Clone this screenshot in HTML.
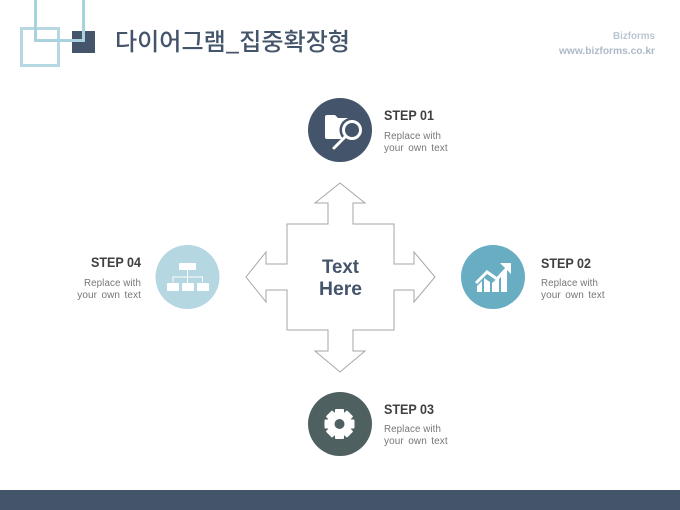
<!DOCTYPE html>
<html><head><meta charset="utf-8">
<style>
html,body{margin:0;padding:0;background:#fff}
svg{display:block}
text{font-family:"Liberation Sans","Noto Sans CJK KR",sans-serif}
.h{font-size:14px;font-weight:bold;fill:#404040}
.s{font-size:10px;fill:#777;letter-spacing:.1px}
</style></head><body>
<svg width="680" height="510" viewBox="0 0 680 510" xmlns="http://www.w3.org/2000/svg">
<rect x="0" y="490" width="680" height="20" fill="#44546a"/>
<!-- logo -->
<rect x="72" y="31" width="23" height="22" fill="#44546a"/>
<rect x="21.500" y="28.500" width="37" height="37" fill="none" stroke="#b5d8e2" stroke-width="3"/>
<path d="M35.500 0V40.500H83.500V0" fill="none" stroke="#a9d2de" stroke-width="3"/>
<text x="115" y="50" font-size="24" font-weight="500" fill="#44546a" textLength="235" lengthAdjust="spacingAndGlyphs" style="font-family:'Noto Sans CJK KR',sans-serif">다이어그램_집중확장형</text>
<text x="655" y="39" text-anchor="end" font-size="10" font-weight="bold" fill="#bcc5d2" textLength="42" lengthAdjust="spacingAndGlyphs">Bizforms</text>
<text x="655" y="54" text-anchor="end" font-size="10.500" font-weight="bold" fill="#aeb8c7" textLength="96" lengthAdjust="spacingAndGlyphs">www.bizforms.co.kr</text>
<!-- arrow -->
<path d="M340 183L365 203H353V224H394V264H414V252L435 277L414 302V290H394V330H353V351H365L340 372L315 351H328V330H287V290H266V302L246 277L266 252V264H287V224H328V203H315Z" fill="#fff" stroke="#a6a6a6" stroke-width="1"/>
<text x="340.500" y="273" text-anchor="middle" font-size="19" font-weight="bold" fill="#44546a" textLength="37" lengthAdjust="spacingAndGlyphs">Text</text>
<text x="340.500" y="295" text-anchor="middle" font-size="19" font-weight="bold" fill="#44546a" textLength="43" lengthAdjust="spacingAndGlyphs">Here</text>
<!-- circles -->
<circle cx="340" cy="130" r="32" fill="#44546a"/>
<circle cx="493" cy="277" r="32" fill="#68adc2"/>
<circle cx="187.500" cy="277" r="32" fill="#b4d7e2"/>
<circle cx="340" cy="424" r="32" fill="#4f6060"/>
<!-- folder + magnifier -->
<path d="M325 117q0-2 2-2h8l3 3h9q2 0 2 2v17q0 2-2 2h-20q-2 0-2-2z" fill="#fff"/>
<circle cx="352" cy="130" r="12.500" fill="#44546a"/>
<circle cx="352" cy="130" r="8.500" fill="#44546a" stroke="#fff" stroke-width="3"/>
<path d="M345 137L334 148" stroke="#fff" stroke-width="3" stroke-linecap="round"/>
<!-- chart -->
<path d="M477 292V286L482 281V292ZM484 292V278L490 282V292ZM492 292V283L499 277V292ZM501 292V275L507 269V292Z" fill="#fff"/>
<path d="M476 283L487 272L497 279L508 267" fill="none" stroke="#fff" stroke-width="3"/>
<path d="M500 263H511V274Z" fill="#fff"/>
<!-- org -->
<rect x="179" y="263" width="17" height="7" rx="1" fill="#fff"/>
<rect x="167" y="283" width="12" height="8" rx="1" fill="#fff"/>
<rect x="182" y="283" width="12" height="8" rx="1" fill="#fff"/>
<rect x="197" y="283" width="12" height="8" rx="1" fill="#fff"/>
<path d="M187.500 270V283M173 282V277H202.500V282" fill="none" stroke="#fff" stroke-width="1"/>
<!-- gear -->
<g transform="translate(339.500 424)" fill="#fff">
<rect x="-4.500" y="-15" width="9" height="30" rx="1"/>
<rect x="-4.500" y="-15" width="9" height="30" rx="1" transform="rotate(45)"/>
<rect x="-4.500" y="-15" width="9" height="30" rx="1" transform="rotate(90)"/>
<rect x="-4.500" y="-15" width="9" height="30" rx="1" transform="rotate(135)"/>
<circle r="12.500"/>
<circle r="5" fill="#4f6060"/>
</g>
<!-- labels -->
<text class="h" x="384" y="120" textLength="50" lengthAdjust="spacingAndGlyphs">STEP 01</text>
<text class="s" x="384" y="139" textLength="57" lengthAdjust="spacingAndGlyphs">Replace with</text>
<text class="s" x="384" y="151" word-spacing="1.500">your own text</text>
<text class="h" x="541" y="268" textLength="50" lengthAdjust="spacingAndGlyphs">STEP 02</text>
<text class="s" x="541" y="286" textLength="57" lengthAdjust="spacingAndGlyphs">Replace with</text>
<text class="s" x="541" y="298" word-spacing="1.500">your own text</text>
<text class="h" x="384" y="414" textLength="50" lengthAdjust="spacingAndGlyphs">STEP 03</text>
<text class="s" x="384" y="432" textLength="57" lengthAdjust="spacingAndGlyphs">Replace with</text>
<text class="s" x="384" y="444" word-spacing="1.500">your own text</text>
<text class="h" x="141" y="267" text-anchor="end" textLength="50" lengthAdjust="spacingAndGlyphs">STEP 04</text>
<text class="s" x="141" y="286" text-anchor="end" textLength="57" lengthAdjust="spacingAndGlyphs">Replace with</text>
<text class="s" x="141" y="298" text-anchor="end" word-spacing="1.500">your own text</text>
</svg>
</body></html>
